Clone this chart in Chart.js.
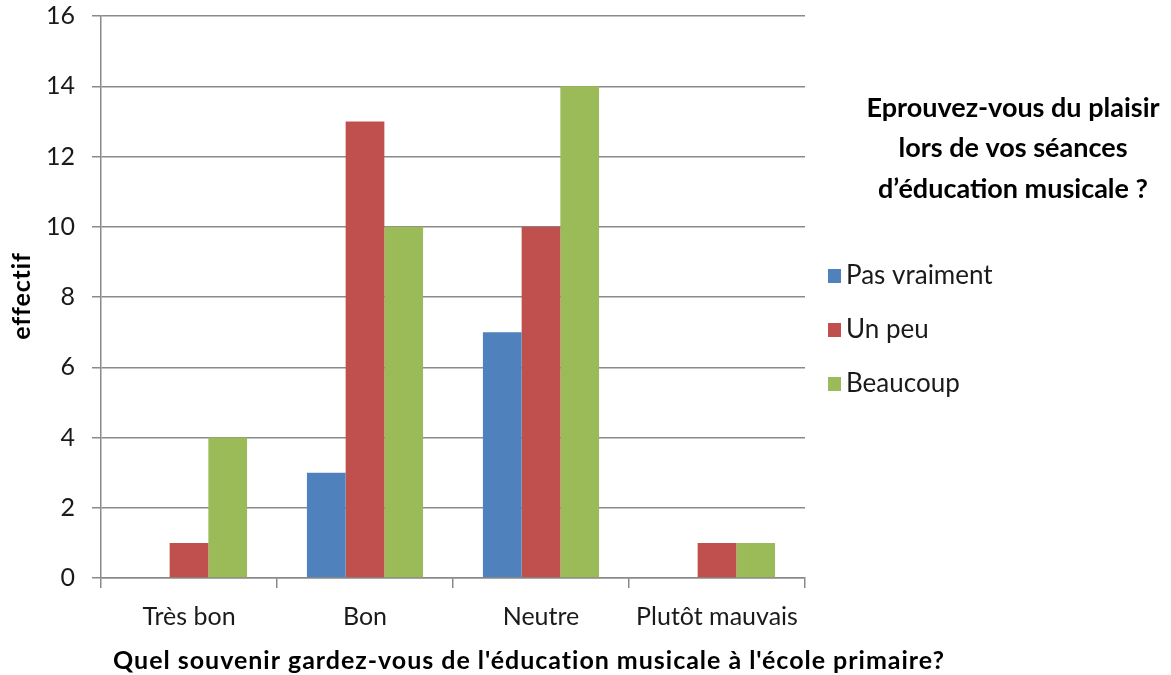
<!DOCTYPE html>
<html>
<head>
<meta charset="utf-8">
<script src="https://cdn.jsdelivr.net/npm/chart.js@4"></script>
<style>
  html, body { margin: 0; padding: 0; background: #fff; }
  canvas { display: block; }
</style>
</head>
<body>
<canvas id="c" width="1171" height="675"></canvas>
<script>
const categories = ["Très bon", "Bon", "Neutre", "Plutôt mauvais"];
const seriesNames = ["Pas vraiment", "Un peu", "Beaucoup"];
const pasVraiment = [0, 3, 7, 0];
const unPeu = [1, 13, 10, 1];
const beaucoup = [4, 10, 14, 1];
const yTicks = [0, 2, 4, 6, 8, 10, 12, 14, 16];
const titleLines = ["Eprouvez-vous du plaisir", "lors de vos séances", "d’éducation musicale ?"];
const xTitle = "Quel souvenir gardez-vous de l'éducation musicale à l'école primaire?";
const yTitle = "effectif";
const colors = ["#4F81BD", "#C0504D", "#9BBB59"];

const GRID = "#8a8a8a";
const TXT = "#1a1a1a";
const FONT = "Lato, 'Open Sans', sans-serif";

function fitText(ctx, text, target) {
  const w = ctx.measureText(text).width;
  if ("letterSpacing" in ctx) {
    ctx.letterSpacing = ((target - w) / text.length).toFixed(2) + "px";
  }
}

const sidePlugin = {
  id: "side",
  afterDraw(chart) {
    const ctx = chart.ctx;
    ctx.save();
    // right-hand title
    ctx.fillStyle = "#000";
    ctx.font = "bold 27px " + FONT;
    ctx.textAlign = "center";
    ctx.textBaseline = "middle";
    const ty = [108, 148, 189];
    titleLines.forEach((l, i) => ctx.fillText(l, 1013, ty[i]));
    // legend
    ctx.font = "26px " + FONT;
    ctx.textAlign = "left";
    chart.data.datasets.forEach((ds, i) => {
      const y = 276 + i * 54;
      ctx.fillStyle = ds.backgroundColor;
      ctx.fillRect(828, y - 7, 13, 14);
      ctx.fillStyle = TXT;
      ctx.fillText(ds.label, 846, y);
    });
    // x-axis title
    ctx.font = "bold 25px " + FONT;
    ctx.textAlign = "center";
    ctx.fillStyle = "#000";
    fitText(ctx, xTitle, 832);
    ctx.fillText(xTitle, 529, 661);
    ctx.letterSpacing = "0px";
    // y-axis title
    ctx.translate(22, 296);
    ctx.rotate(-Math.PI / 2);
    ctx.font = "bold 25px " + FONT;
    fitText(ctx, yTitle, 87);
    ctx.fillText(yTitle, 0, 0);
    ctx.restore();
  }
};

new Chart(document.getElementById("c"), {
  type: "bar",
  data: {
    labels: categories,
    datasets: [
      { label: seriesNames[0], data: pasVraiment, backgroundColor: colors[0] },
      { label: seriesNames[1], data: unPeu, backgroundColor: colors[1] },
      { label: seriesNames[2], data: beaucoup, backgroundColor: colors[2] }
    ]
  },
  options: {
    responsive: false,
    animation: false,
    devicePixelRatio: 1,
    layout: { padding: { top: 16, right: 366, left: 0, bottom: 0 } },
    datasets: { bar: { categoryPercentage: 0.66, barPercentage: 1.0 } },
    plugins: {
      legend: { display: false },
      tooltip: { enabled: false },
      title: { display: false }
    },
    scales: {
      x: {
        offset: true,
        grid: { display: true, offset: true, drawOnChartArea: false, drawTicks: true, tickLength: 10, color: GRID, lineWidth: 1.5 },
        border: { display: true, color: GRID, width: 1.5 },
        ticks: { font: { family: FONT, size: 25 }, color: TXT, padding: 14, maxRotation: 0 },
        afterFit(scale) { scale.height = 97; scale.paddingLeft = 0; scale.paddingRight = 0; }
      },
      y: {
        min: 0, max: 16,
        afterBuildTicks(scale) { scale.ticks = yTicks.map(v => ({ value: v })); },
        grid: { color: GRID, lineWidth: 1.5, drawTicks: true, tickLength: 9, tickColor: GRID },
        border: { display: true, color: GRID, width: 1.5 },
        ticks: { font: { family: FONT, size: 25 }, color: TXT, padding: 17 },
        afterFit(scale) { scale.width = 101; scale.paddingTop = 0; scale.paddingBottom = 0; }
      }
    }
  },
  plugins: [sidePlugin]
});
</script>
</body>
</html>
